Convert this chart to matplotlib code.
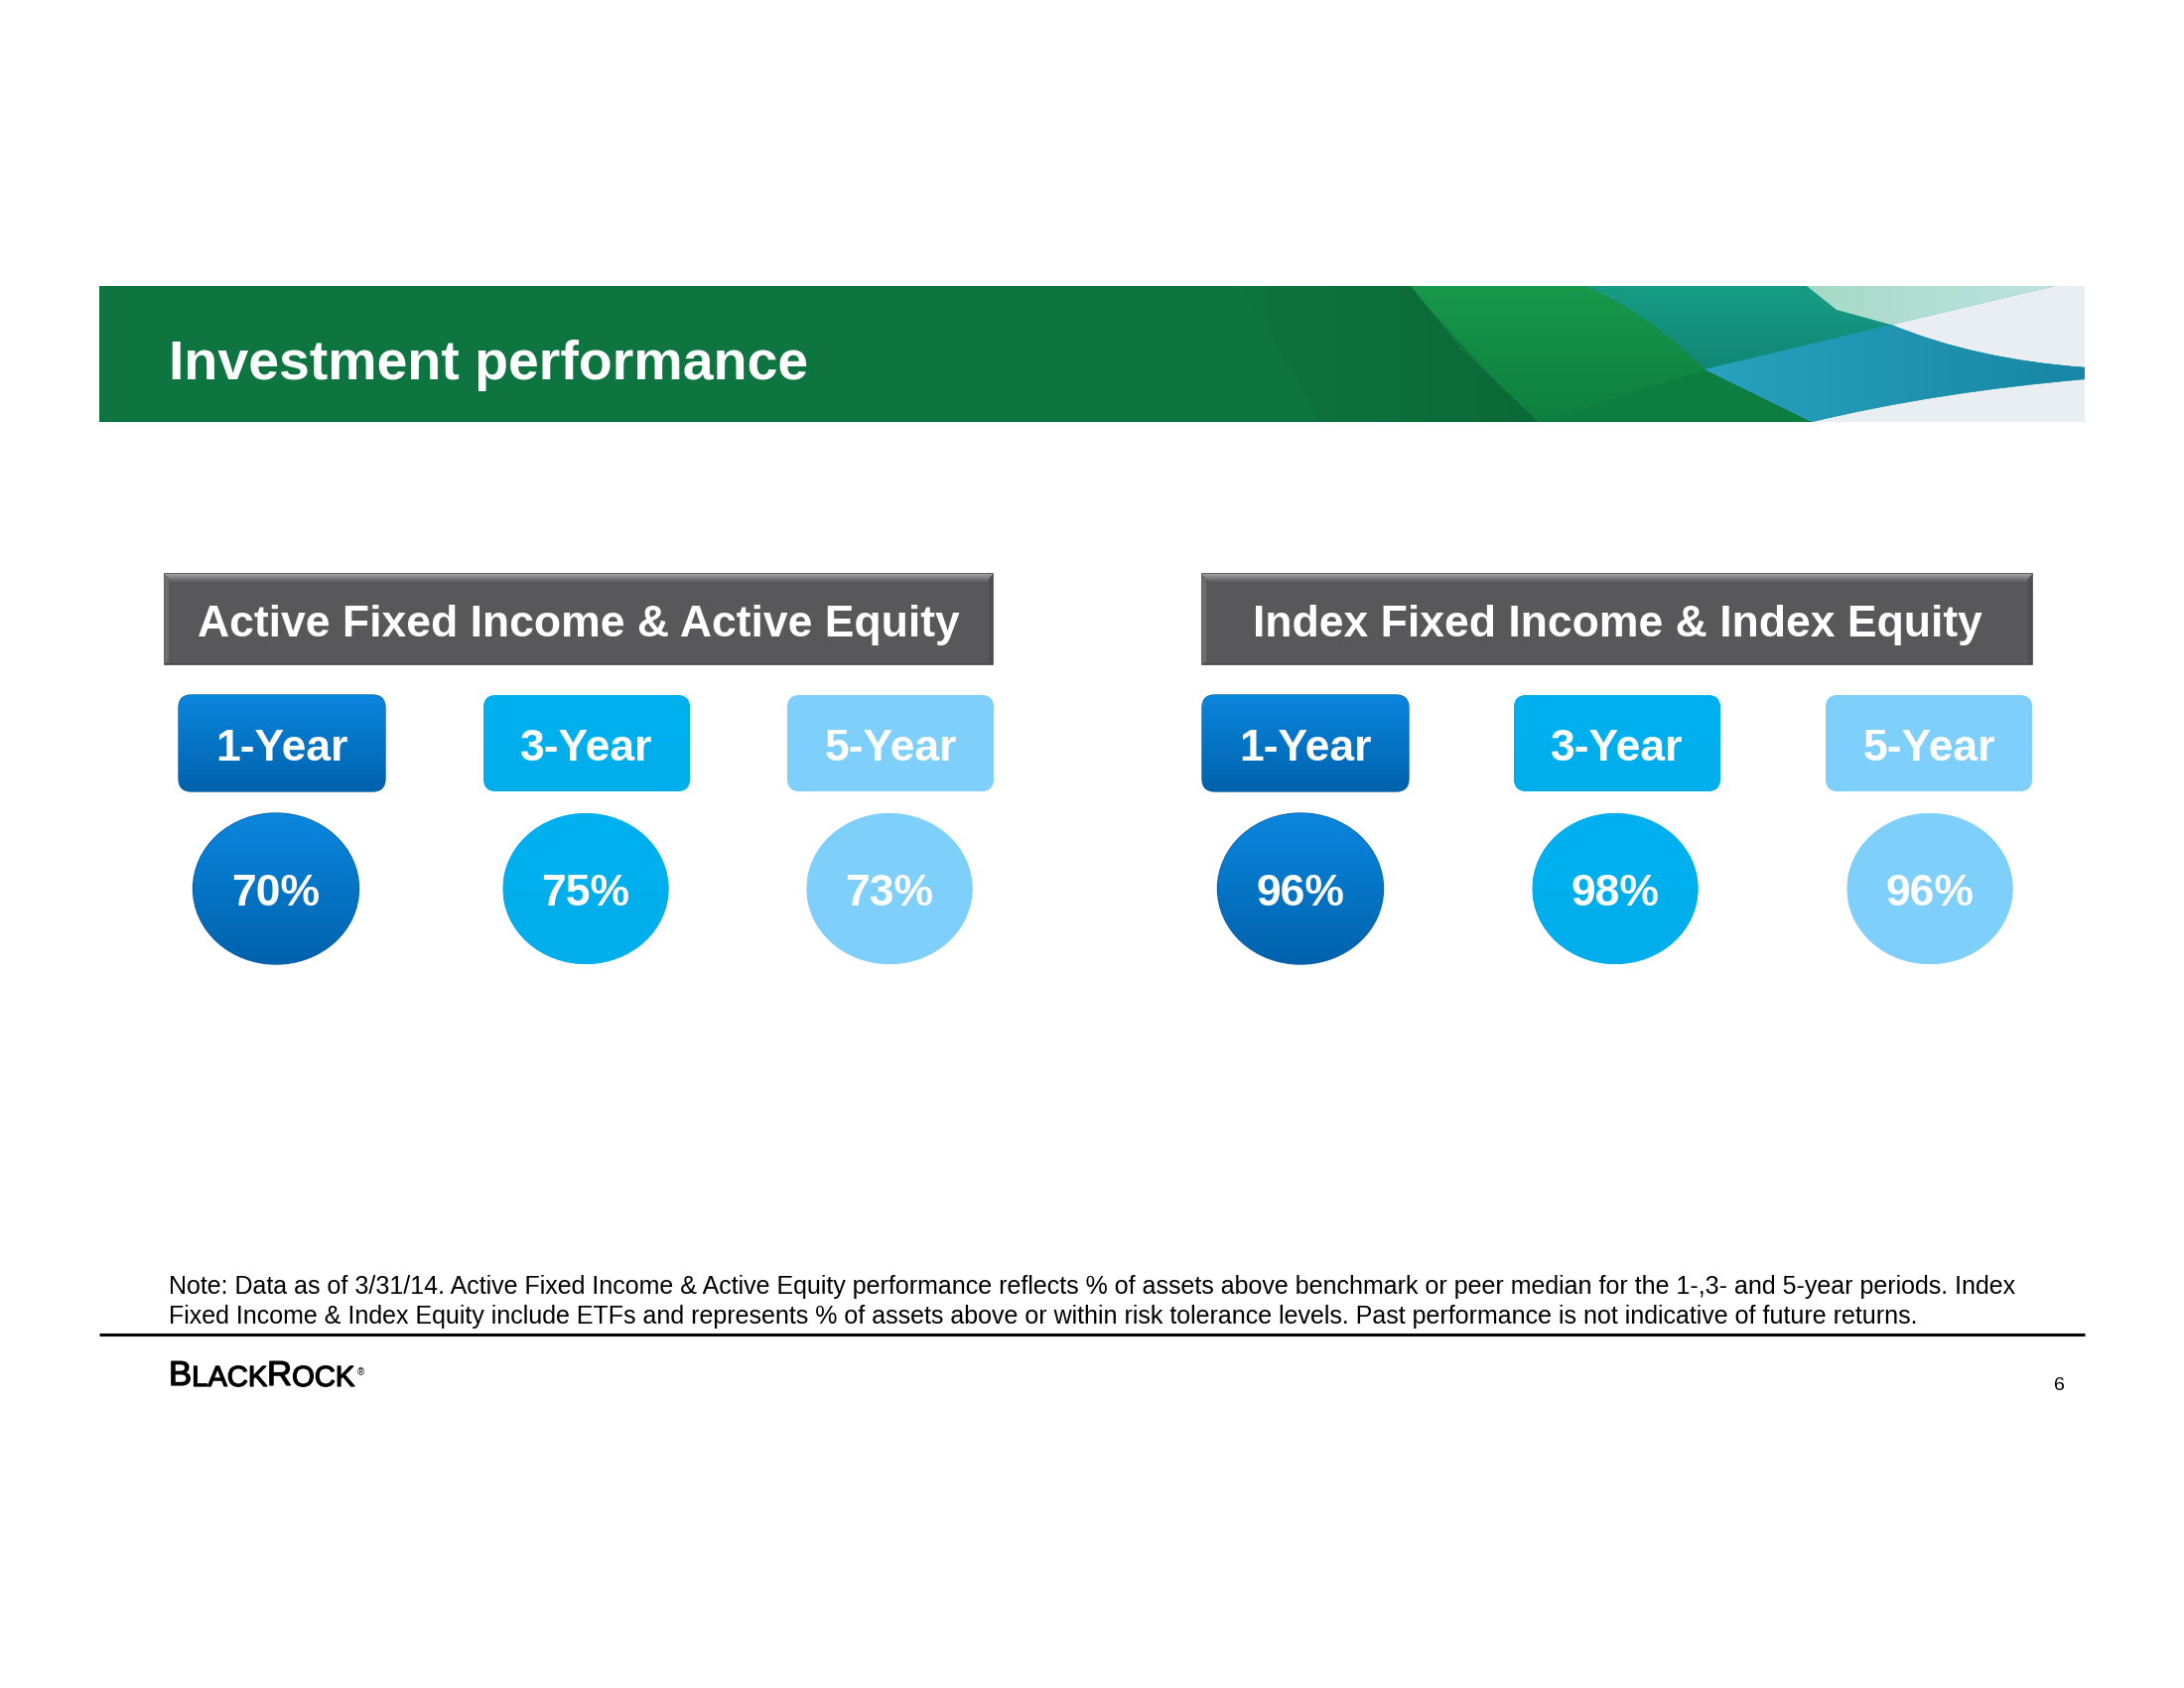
import numpy as np
import matplotlib.pyplot as plt
import matplotlib.colors as mcolors
import matplotlib.patheffects as pe
from matplotlib.patches import Rectangle, FancyBboxPatch, Ellipse, PathPatch, Polygon
from matplotlib.path import Path

plt.rcParams['font.family'] = ['Liberation Sans', 'DejaVu Sans']

# ---- data ----
title = 'Investment performance'
groups = ['Active Fixed Income & Active Equity', 'Index Fixed Income & Index Equity']
periods = ['1-Year', '3-Year', '5-Year']
active_pct = [70, 75, 73]
index_pct = [96, 98, 96]
note_lines = [
    'Note: Data as of 3/31/14. Active Fixed Income & Active Equity performance reflects % of assets above '
    'benchmark or peer median for the 1-,3- and 5-year periods. Index',
    'Fixed Income & Index Equity include ETFs and represents % of assets above or within risk tolerance '
    'levels. Past performance is not indicative of future returns.',
]
page_no = '6'

# ---- layout (pixels on a 2200 x 1700 page) ----
group_x = [(166, 1000), (1211, 2047)]
box_left = [[180, 487, 793], [1211, 1525, 1839]]
circ_cx = [[278, 590, 896], [1310, 1627, 1944]]
box_w, box_h, box_top = 208, 97, 700
circ_cy, circ_w, circ_h = 895, 167, 152
period_top = ['#0B86DE', '#00B0EE', '#80D0FC']
period_bot = ['#0062AC', '#00AEEC', '#7ECFFB']

fig = plt.figure(figsize=(22, 17), dpi=100)
ax = fig.add_axes([0, 0, 1, 1])
ax.set_xlim(0, 2200)
ax.set_ylim(1700, 0)
ax.axis('off')


def grad_fill(patch, top, bottom, x0, x1, y0, y1, horizontal=False, z=2):
    patch.set_zorder(z)
    ax.add_patch(patch)
    c0 = np.array(mcolors.to_rgba(top))
    c1 = np.array(mcolors.to_rgba(bottom))
    t = np.linspace(0, 1, 256)
    if horizontal:
        img = c0 + (c1 - c0) * t[None, :, None]
    else:
        img = c0 + (c1 - c0) * t[:, None, None]
    im = ax.imshow(img, extent=(x0, x1, y1, y0), aspect='auto', origin='upper',
                   interpolation='bilinear', zorder=z + 0.1)
    im.set_clip_path(patch)


def curve_patch(pts, codes, color):
    return PathPatch(Path(pts, codes), facecolor=color, edgecolor='none')


M, L, C3, CL = Path.MOVETO, Path.LINETO, Path.CURVE3, Path.CLOSEPOLY

# ---- banner ----
ax.add_patch(Rectangle((100, 288), 2000, 137, facecolor='#0E7440', edgecolor='none', zorder=1))
shade = Polygon([(1250, 288), (1421, 288), (1470, 350), (1550, 425), (1330, 425)], closed=True,
                facecolor='none', edgecolor='none')
grad_fill(shade, (0.04, 0.40, 0.21, 0.0), (0.04, 0.40, 0.21, 0.8), 1250, 1550, 288, 425,
          horizontal=True, z=1.5)
lower = Polygon([(1550, 425), (1717, 372), (1825, 425)], closed=True,
                facecolor='#0E7E40', edgecolor='none', zorder=2)
ax.add_patch(lower)
band = curve_patch([(1421, 288), (1470, 350), (1550, 425), (1717, 372), (1660, 315),
                    (1597, 288), (1421, 288)],
                   [M, C3, C3, L, C3, C3, CL], '#138B45')
grad_fill(band, '#17984B', '#0E7F3F', 1421, 1717, 288, 425)
teal = curve_patch([(1597, 288), (1820, 288), (1850, 312), (1905, 327), (1717, 372),
                    (1660, 315), (1597, 288), (1597, 288)],
                   [M, L, C3, C3, L, C3, C3, CL], '#159A80')
grad_fill(teal, '#179D84', '#118676', 1597, 1905, 288, 372)
mint = Polygon([(1820, 288), (2070, 288), (1905, 327), (1850, 312)], closed=True,
               facecolor='#AADCCC', edgecolor='none')
grad_fill(mint, '#A6DAC6', '#BDE3E0', 1820, 2070, 288, 327, horizontal=True)
gray_top = curve_patch([(2070, 288), (2100, 288), (2100, 370), (1990, 362), (1905, 327), (2070, 288)],
                       [M, L, L, C3, C3, CL], '#E8EEF1')
ax.add_patch(gray_top)
gray_top.set_zorder(2)
blue = curve_patch([(1717, 372), (1905, 327), (1990, 362), (2100, 370), (2100, 382),
                    (1950, 395), (1825, 425), (1717, 372)],
                   [M, L, C3, C3, L, C3, C3, CL], '#2099B6')
grad_fill(blue, '#28A2BC', '#1886A6', 1717, 2100, 327, 425, horizontal=True)
gray_bot = curve_patch([(1825, 425), (1950, 395), (2100, 382), (2100, 425), (1825, 425)],
                       [M, C3, C3, L, CL], '#E8EEF1')
ax.add_patch(gray_bot)
gray_bot.set_zorder(2)
ax.text(170, 382, title, fontsize=40, fontweight='bold', color='white', va='baseline', zorder=5)

# ---- groups ----
values = [active_pct, index_pct]
for g, name in enumerate(groups):
    x0, x1 = group_x[g]
    y0, y1 = 578, 669
    ax.add_patch(Rectangle((x0, y0), x1 - x0, y1 - y0, facecolor='#58585B',
                           edgecolor='#454547', linewidth=1.2, zorder=2))
    bevel = Polygon([(x0, y0), (x1, y0), (x1 - 7, y0 + 8), (x0 + 7, y0 + 8)], closed=True,
                    facecolor='#8A8A8C', edgecolor='none')
    grad_fill(bevel, '#A0A0A2', '#5E5E61', x0, x1, y0, y0 + 8, z=3)
    ax.add_patch(Polygon([(x0, y0), (x0 + 4, y0 + 6), (x0 + 4, y1 - 3), (x0, y1)], closed=True,
                         facecolor='#6E6E70', edgecolor='none', zorder=3))
    ax.add_patch(Polygon([(x1, y0), (x1 - 4, y0 + 6), (x1 - 4, y1 - 3), (x1, y1)], closed=True,
                         facecolor='#4E4E50', edgecolor='none', zorder=3))
    ax.text((x0 + x1) / 2, 641, name, fontsize=32, fontweight='bold', color='white',
            ha='center', va='baseline', zorder=5)

    for i, per in enumerate(periods):
        bx = box_left[g][i]
        box = FancyBboxPatch((bx, box_top), box_w, box_h,
                             boxstyle='round,pad=0,rounding_size=13',
                             facecolor=period_bot[i],
                             edgecolor='#0A5EA0' if i == 0 else 'none',
                             linewidth=1.0)
        grad_fill(box, period_top[i], period_bot[i], bx, bx + box_w, box_top, box_top + box_h)
        ax.text(bx + box_w / 2, box_top + box_h / 2 + 17, per, fontsize=32, fontweight='bold',
                color='white', ha='center', va='baseline', zorder=5)

        cx = circ_cx[g][i]
        circ = Ellipse((cx, circ_cy), circ_w, circ_h, facecolor=period_bot[i],
                       edgecolor='#0A5EA0' if i == 0 else 'none', linewidth=1.0)
        grad_fill(circ, period_top[i], period_bot[i], cx - circ_w / 2, cx + circ_w / 2,
                  circ_cy - circ_h / 2, circ_cy + circ_h / 2)
        ax.text(cx, circ_cy + 17, f'{values[g][i]}%', fontsize=32, fontweight='bold',
                color='white', ha='center', va='baseline', zorder=5)

# ---- footer ----
ax.text(170, 1303, note_lines[0], fontsize=18, color='black', va='baseline')
ax.text(170, 1333, note_lines[1], fontsize=18, color='black', va='baseline')
ax.plot([100, 2100], [1344, 1344], color='black', linewidth=2.2, solid_capstyle='butt')

thick = [pe.withStroke(linewidth=0.9, foreground='black')]
t = ax.text(170, 1395, 'B', fontsize=25, color='black', va='baseline', path_effects=thick)
for piece, fs in [('LACK', 21), ('R', 25), ('OCK', 21)]:
    t = ax.annotate(piece, xy=(1, 0), xycoords=t, fontsize=fs, color='black',
                    ha='left', va='bottom', path_effects=thick)
ax.annotate('\u00ae', xy=(1, 0.72), xycoords=t, fontsize=7, color='black', ha='left', va='center',
            xytext=(2, 0), textcoords='offset points')
ax.text(2074, 1400, page_no, fontsize=14, color='black', ha='center', va='baseline')

ax.set_xlim(0, 2200)
ax.set_ylim(1700, 0)
fig.savefig('out.png', dpi=100, facecolor='white')
